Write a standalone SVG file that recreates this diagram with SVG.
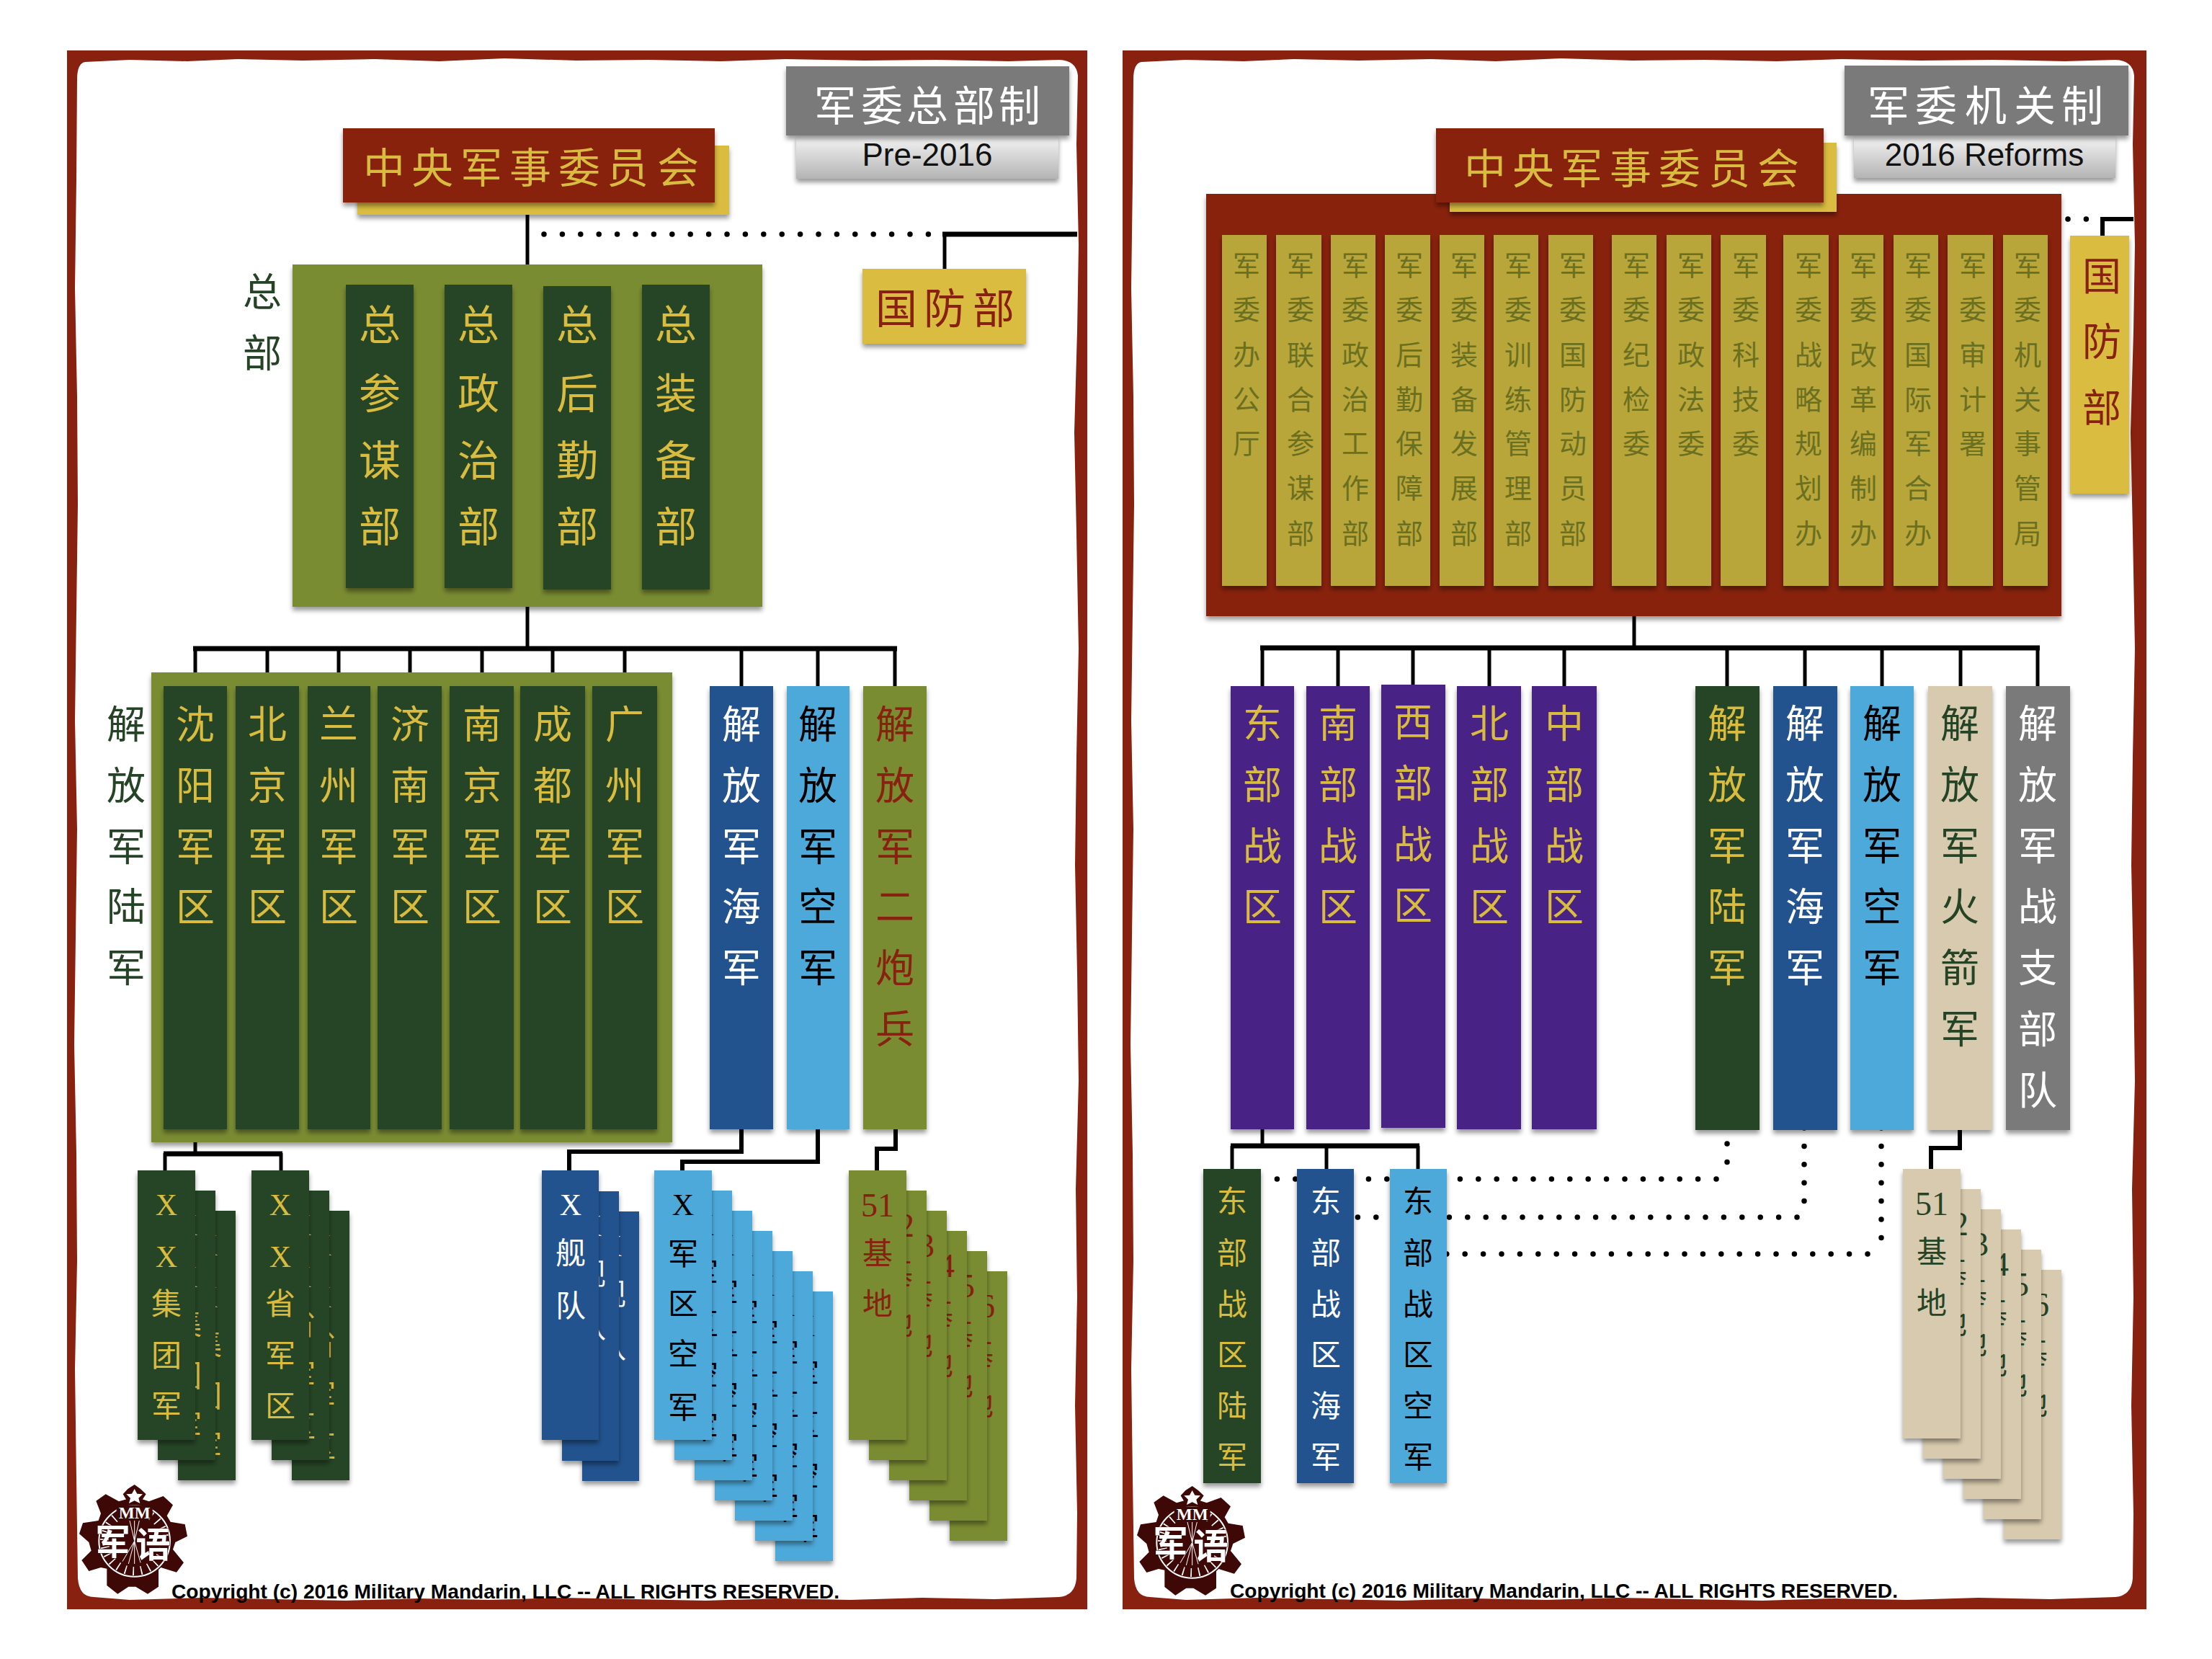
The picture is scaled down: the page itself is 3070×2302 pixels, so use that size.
<svg xmlns="http://www.w3.org/2000/svg" width="3070" height="2302" viewBox="0 0 3070 2302">
<style>
text{font-family:"Noto Sans CJK SC","Noto Sans",sans-serif;text-anchor:middle;dominant-baseline:central;transform:translateY(-3px)}
.ser{font-family:"Liberation Serif","Noto Sans CJK SC",serif;transform:none}
.lat{font-family:"Liberation Sans",sans-serif;font-size:44px;fill:#111}
.copy{font-family:"Liberation Sans",sans-serif;font-weight:700;font-size:28px;fill:#000;text-anchor:start;dominant-baseline:auto;transform:none}
.s{filter:url(#sh)}
.red{fill:#88210F}.yel{fill:#D9BC3F}.dk{fill:#254426}.olv{fill:#7A8C32}.nav{fill:#20528E}.sky{fill:#4EA9DA}.pur{fill:#4A2386}.bei{fill:#D8CAAE}.gry{fill:#7A7A7A}.gold{fill:#B9A63A}
.ty{fill:#D9BC3F}.tr{fill:#88210F}.tw{fill:#fff}.tk{fill:#000}.tg{fill:#254426}.to{fill:#6B7020;transform:translate(3px,-3px)}
.f60{font-size:58px}.f54{font-size:54px}.f42{font-size:42px}.f38{font-size:38px}.f46{font-size:46px}
.c{fill:none;stroke:#000;stroke-width:5}
.b{fill:none;stroke:#000;stroke-width:7}
.d{fill:none;stroke:#000;stroke-width:7.5;stroke-linecap:round;stroke-dasharray:0 25.4}
.lg{fill:#3D0805}
</style>
<defs>
<filter id="sh" x="-20%" y="-20%" width="140%" height="140%"><feDropShadow dx="0" dy="5" stdDeviation="3" flood-color="#000" flood-opacity="0.4"/></filter>
<linearGradient id="sub" x1="0" y1="0" x2="0" y2="1"><stop offset="0" stop-color="#F5F5F5"/><stop offset="1" stop-color="#B4B4B4"/></linearGradient>
</defs>
<rect width="3070" height="2302" fill="#fff"/>

<g id="frame-left"><rect class="red" x="93" y="70" width="1416" height="2163"/>
<path id="inner" fill="#fff" d="M118,86 L180,83 L260,85 L330,82 L420,84 L520,82 L610,85 L700,81 L800,84 L900,83 L1000,85 L1090,82 L1200,84 L1300,83 L1400,85 L1470,83 Q1494,84 1496,105 L1494,200 L1497,340 L1495,460 L1491,600 L1494,740 L1497,900 L1494,1050 L1492,1200 L1495,1350 L1497,1500 L1493,1650 L1495,1800 L1492,1950 L1495,2100 L1494,2190 Q1492,2214 1470,2216 L1380,2219 L1280,2217 L1180,2220 L1080,2218 L980,2221 L880,2219 L780,2217 L680,2220 L580,2218 L480,2221 L380,2219 L280,2217 L180,2220 L130,2216 Q110,2216 108,2190 L106,2050 L104,1900 L107,1750 L106,1600 L103,1450 L105,1300 L107,1150 L104,1000 L106,850 L108,700 L107,550 L104,400 L106,250 L107,110 Q107,88 118,86Z"/></g>
<g id="frame-right"><rect class="red" x="1558" y="70" width="1421" height="2163"/>
<path fill="#fff" transform="translate(1466,0)" d="M118,86 L180,83 L260,85 L330,82 L420,84 L520,82 L610,85 L700,81 L800,84 L900,83 L1000,85 L1090,82 L1200,84 L1300,83 L1400,85 L1470,83 Q1494,84 1496,105 L1494,200 L1497,340 L1495,460 L1491,600 L1494,740 L1497,900 L1494,1050 L1492,1200 L1495,1350 L1497,1500 L1493,1650 L1495,1800 L1492,1950 L1495,2100 L1494,2190 Q1492,2214 1470,2216 L1380,2219 L1280,2217 L1180,2220 L1080,2218 L980,2221 L880,2219 L780,2217 L680,2220 L580,2218 L480,2221 L380,2219 L280,2217 L180,2220 L130,2216 Q110,2216 108,2190 L106,2050 L104,1900 L107,1750 L106,1600 L103,1450 L105,1300 L107,1150 L104,1000 L106,850 L108,700 L107,550 L104,400 L106,250 L107,110 Q107,88 118,86Z"/></g>

<g id="connectors">
<path class="c" d="M732,298V367M732,842V900M271,900V952M371,900V952M470,900V952M569,900V952M669,900V952M767,900V952M867,900V952M1029,900V952M1135,900V952M1242,900V952"/>
<path class="b" d="M268,900H1245"/>
<path class="c" d="M1311,373V325"/><path class="b" d="M1308,325H1495"/>
<path class="d" d="M755,325H1292"/>
<path class="c" d="M271,1567V1600M229,1600V1624M390,1600V1624"/><path class="b" d="M227,1601H392"/>
<path class="c" style="stroke-width:6" d="M1029,1567V1598H790V1624"/>
<path class="c" style="stroke-width:6" d="M1135,1567V1612H947V1624"/>
<path class="c" style="stroke-width:6" d="M1243,1567V1594H1217V1624"/>
<path class="c" d="M2268,855V899M1752,899V952M1857,899V952M1961,899V952M2067,899V952M2171,899V952M2397,899V952M2505,899V952M2612,899V952M2721,899V952M2828,899V952"/>
<path class="b" d="M1749,899H2831"/>
<path class="d" d="M2870,304H2896"/>
<path class="c" style="stroke-width:6" d="M2918,327V304H2961"/>
<path class="c" d="M1752,1567V1590M1710,1590V1622M1841,1590V1622M1968,1590V1622"/><path class="b" d="M1708,1590H1970"/>
<path class="c" style="stroke-width:6" d="M2720,1568V1593H2680V1622"/>
<path class="d" d="M2382,1636H1770"/><path class="d" d="M2397,1587V1613"/>
<path class="d" d="M2494,1689H1880"/><path class="d" d="M2504,1565V1667"/>
<path class="d" d="M2592,1740H2005"/><path class="d" d="M2611,1565V1718"/>
</g>

<g id="title-left"><rect x="1105" y="188" width="364" height="60" fill="url(#sub)" class="s"/><rect class="gry s" x="1091" y="92" width="393" height="96"/>
<text class="tw f60" x="1159 1224 1287 1352 1415" y="146 146 146 146 146">军委总部制</text>
<text class="lat" x="1287" y="217">Pre-2016</text></g>

<g id="cmc-left"><rect class="yel s" x="496" y="202" width="516" height="96"/><rect class="red s" x="476" y="178" width="516" height="103"/>
<text class="ty f60" x="533 600 668 736 804 871 941" y="232 232 232 232 232 232 232">中央军事委员会</text></g>

<g id="mnd-left"><rect class="yel s" x="1197" y="373" width="227" height="104"/>
<text class="tr f60" x="1244 1311 1379" y="427 427 427">国防部</text></g>

<g id="hq-label"><text class="tg f54" x="364 364" y="404 489">总部</text></g>
<g id="hq-box"><rect class="olv s" x="406" y="367" width="652" height="475"/></g>
<g id="gsd"><rect class="dk s" x="480" y="395" width="94" height="421"/><text class="ty f60" x="527 527 527 527" y="450 545 638 730">总参谋部</text></g>
<g id="gpd"><rect class="dk s" x="617" y="395" width="94" height="421"/><text class="ty f60" x="664 664 664 664" y="450 545 638 730">总政治部</text></g>
<g id="gld"><rect class="dk s" x="754" y="397" width="94" height="421"/><text class="ty f60" x="801 801 801 801" y="450 545 638 730">总后勤部</text></g>
<g id="ged"><rect class="dk s" x="891" y="395" width="94" height="423"/><text class="ty f60" x="938 938 938 938" y="450 545 638 730">总装备部</text></g>

<g id="pla-label"><text class="tg f54" x="175 175 175 175 175" y="1004 1089 1174 1257 1342">解放军陆军</text></g>
<g id="army-box"><rect class="olv s" x="210" y="933" width="723" height="652"/></g>
<g id="mr1"><rect class="dk s" x="227" y="952" width="88" height="615"/><text class="ty f54" x="271 271 271 271" y="1004 1089 1174 1257">沈阳军区</text></g>
<g id="mr2"><rect class="dk s" x="327" y="952" width="88" height="615"/><text class="ty f54" x="371 371 371 371" y="1004 1089 1174 1257">北京军区</text></g>
<g id="mr3"><rect class="dk s" x="427" y="952" width="87" height="615"/><text class="ty f54" x="470 470 470 470" y="1004 1089 1174 1257">兰州军区</text></g>
<g id="mr4"><rect class="dk s" x="524" y="952" width="89" height="615"/><text class="ty f54" x="569 569 569 569" y="1004 1089 1174 1257">济南军区</text></g>
<g id="mr5"><rect class="dk s" x="624" y="952" width="89" height="615"/><text class="ty f54" x="669 669 669 669" y="1004 1089 1174 1257">南京军区</text></g>
<g id="mr6"><rect class="dk s" x="722" y="952" width="90" height="615"/><text class="ty f54" x="767 767 767 767" y="1004 1089 1174 1257">成都军区</text></g>
<g id="mr7"><rect class="dk s" x="822" y="952" width="90" height="615"/><text class="ty f54" x="867 867 867 867" y="1004 1089 1174 1257">广州军区</text></g>
<g id="navy-old"><rect class="nav s" x="985" y="952" width="88" height="615"/><text class="tw f54" x="1029 1029 1029 1029 1029" y="1004 1089 1174 1257 1342">解放军海军</text></g>
<g id="air-old"><rect class="sky s" x="1092" y="952" width="87" height="615"/><text class="tk f54" x="1135 1135 1135 1135 1135" y="1004 1089 1174 1257 1342">解放军空军</text></g>
<g id="sac"><rect class="olv s" x="1198" y="952" width="88" height="615"/><text class="tr f54" x="1242 1242 1242 1242 1242 1242" y="1004 1089 1174 1257 1342 1427">解放军二炮兵</text></g>

<g id="stack-ga">
<g transform="translate(247,1680)"><rect class="dk s" width="80" height="374"/><text class="ty f42 ser" x="40 40 40 40 40" y="48 120 186 258 328">XX集团军</text></g>
<g transform="translate(219,1652)"><rect class="dk s" width="80" height="374"/><text class="ty f42 ser" x="40 40 40 40 40" y="48 120 186 258 328">XX集团军</text></g>
<g transform="translate(191,1624)"><rect class="dk s" width="80" height="374"/><text class="ty f42 ser" x="40 40 40 40 40" y="48 120 186 258 328">XX集团军</text></g>
</g>
<g id="stack-pmd">
<g transform="translate(405,1680)"><rect class="dk s" width="80" height="374"/><text class="ty f42 ser" x="40 40 40 40 40" y="48 120 186 258 328">XX省军区</text></g>
<g transform="translate(377,1652)"><rect class="dk s" width="80" height="374"/><text class="ty f42 ser" x="40 40 40 40 40" y="48 120 186 258 328">XX省军区</text></g>
<g transform="translate(349,1624)"><rect class="dk s" width="80" height="374"/><text class="ty f42 ser" x="40 40 40 40 40" y="48 120 186 258 328">XX省军区</text></g>
</g>
<g id="stack-fleet">
<g transform="translate(808,1681)"><rect class="nav s" width="79" height="374"/><text class="tw f42 ser" x="40 40 40" y="48 116 189">X舰队</text></g>
<g transform="translate(780,1653)"><rect class="nav s" width="79" height="374"/><text class="tw f42 ser" x="40 40 40" y="48 116 189">X舰队</text></g>
<g transform="translate(752,1624)"><rect class="nav s" width="79" height="374"/><text class="tw f42 ser" x="40 40 40" y="48 116 189">X舰队</text></g>
</g>
<g id="stack-maf">
<g transform="translate(1076,1792)"><rect class="sky s" width="80" height="374"/><text class="tk f42 ser" x="40 40 40 40 40" y="48 117 186 256 330">X军区空军</text></g>
<g transform="translate(1048,1764)"><rect class="sky s" width="80" height="374"/><text class="tk f42 ser" x="40 40 40 40 40" y="48 117 186 256 330">X军区空军</text></g>
<g transform="translate(1020,1736)"><rect class="sky s" width="80" height="374"/><text class="tk f42 ser" x="40 40 40 40 40" y="48 117 186 256 330">X军区空军</text></g>
<g transform="translate(992,1708)"><rect class="sky s" width="80" height="374"/><text class="tk f42 ser" x="40 40 40 40 40" y="48 117 186 256 330">X军区空军</text></g>
<g transform="translate(964,1680)"><rect class="sky s" width="80" height="374"/><text class="tk f42 ser" x="40 40 40 40 40" y="48 117 186 256 330">X军区空军</text></g>
<g transform="translate(936,1652)"><rect class="sky s" width="80" height="374"/><text class="tk f42 ser" x="40 40 40 40 40" y="48 117 186 256 330">X军区空军</text></g>
<g transform="translate(908,1624)"><rect class="sky s" width="80" height="374"/><text class="tk f42 ser" x="40 40 40 40 40" y="48 117 186 256 330">X军区空军</text></g>
</g>
<g id="stack-base-old">
<g transform="translate(1318,1764)"><rect class="olv s" width="80" height="374"/><text class="tr f42 ser"><tspan x="40" y="48" class="f46">56</tspan><tspan x="40 40" y="116 186">基地</tspan></text></g>
<g transform="translate(1290,1736)"><rect class="olv s" width="80" height="374"/><text class="tr f42 ser"><tspan x="40" y="48" class="f46">55</tspan><tspan x="40 40" y="116 186">基地</tspan></text></g>
<g transform="translate(1262,1708)"><rect class="olv s" width="80" height="374"/><text class="tr f42 ser"><tspan x="40" y="48" class="f46">54</tspan><tspan x="40 40" y="116 186">基地</tspan></text></g>
<g transform="translate(1234,1680)"><rect class="olv s" width="80" height="374"/><text class="tr f42 ser"><tspan x="40" y="48" class="f46">53</tspan><tspan x="40 40" y="116 186">基地</tspan></text></g>
<g transform="translate(1206,1652)"><rect class="olv s" width="80" height="374"/><text class="tr f42 ser"><tspan x="40" y="48" class="f46">52</tspan><tspan x="40 40" y="116 186">基地</tspan></text></g>
<g transform="translate(1178,1624)"><rect class="olv s" width="80" height="374"/><text class="tr f42 ser"><tspan x="40" y="48" class="f46">51</tspan><tspan x="40 40" y="116 186">基地</tspan></text></g>
</g>

<g id="logo-left" transform="translate(90,2060) scale(.3333)">
<polygon class="lg" points="130,68 170,40 225,70 260,60 320,60 350,70 410,48 450,85 425,130 440,155 500,165 510,215 460,240 450,270 495,325 465,365 400,345 390,355 390,425 345,455 295,425 265,425 220,455 175,420 175,350 150,345 100,360 70,315 110,275 100,240 60,205 75,160 140,150 150,120"/>
<polygon class="lg" points="290,0 315,18 338,40 318,70 320,90 258,90 260,70 242,40 262,18"/>
<polygon fill="#fff" points="290,18 301,38 324,40 307,56 313,78 290,67 267,78 273,56 256,40 279,38"/>
<circle cx="290" cy="235" r="148" fill="none" stroke="#fff" stroke-width="6"/>
<circle cx="290" cy="235" r="125" fill="none" stroke="#fff" stroke-width="36" stroke-dasharray="5 28"/>
<path fill="none" stroke="#fff" stroke-width="3" d="M290,235L270,150M290,235L310,150M290,235L290,150M290,235L240,320M290,235L265,330M290,235L290,330M290,235L315,325"/>
<rect class="lg" x="215" y="85" width="150" height="60"/>
<text class="ser" x="290" y="117" font-size="70" font-weight="700" fill="#fff">MM</text>
<text x="200 368" y="232 242" font-size="145" font-weight="700" fill="#fff" stroke="#3D0805" stroke-width="3" paint-order="stroke">军语</text>
</g>
<g id="logo-right" transform="translate(1558,2062) scale(.3333)">
<polygon class="lg" points="130,68 170,40 225,70 260,60 320,60 350,70 410,48 450,85 425,130 440,155 500,165 510,215 460,240 450,270 495,325 465,365 400,345 390,355 390,425 345,455 295,425 265,425 220,455 175,420 175,350 150,345 100,360 70,315 110,275 100,240 60,205 75,160 140,150 150,120"/>
<polygon class="lg" points="290,0 315,18 338,40 318,70 320,90 258,90 260,70 242,40 262,18"/>
<polygon fill="#fff" points="290,18 301,38 324,40 307,56 313,78 290,67 267,78 273,56 256,40 279,38"/>
<circle cx="290" cy="235" r="148" fill="none" stroke="#fff" stroke-width="6"/>
<circle cx="290" cy="235" r="125" fill="none" stroke="#fff" stroke-width="36" stroke-dasharray="5 28"/>
<path fill="none" stroke="#fff" stroke-width="3" d="M290,235L270,150M290,235L310,150M290,235L290,150M290,235L240,320M290,235L265,330M290,235L290,330M290,235L315,325"/>
<rect class="lg" x="215" y="85" width="150" height="60"/>
<text class="ser" x="290" y="117" font-size="70" font-weight="700" fill="#fff">MM</text>
<text x="200 368" y="232 242" font-size="145" font-weight="700" fill="#fff" stroke="#3D0805" stroke-width="3" paint-order="stroke">军语</text>
</g>
<text class="copy" x="238" y="2218" textLength="927" lengthAdjust="spacingAndGlyphs">Copyright (c) 2016 Military Mandarin, LLC -- ALL RIGHTS RESERVED.</text>

<g id="title-right"><rect x="2573" y="188" width="363" height="59" fill="url(#sub)" class="s"/><rect class="gry s" x="2560" y="91" width="394" height="97"/>
<text class="tw f60" x="2621 2687 2756 2824 2890" y="146 146 146 146 146">军委机关制</text>
<text class="lat" x="2754" y="217">2016 Reforms</text></g>

<g id="cmc-box"><rect class="red s" x="1674" y="269" width="1187" height="586"/></g>
<g id="cmc-right"><rect class="yel s" x="2012" y="198" width="537" height="96"/><rect class="red s" x="1993" y="178" width="538" height="103"/>
<text class="ty f60" x="2061 2128 2195 2263 2331 2400 2468" y="233 233 233 233 233 233 233">中央军事委员会</text></g>

<g id="d01"><rect class="gold s" x="1696" y="326" width="62" height="487"/><text class="to f38" x="1727 1727 1727 1727 1727" y="368 429 492 554 615">军委办公厅</text></g>
<g id="d02"><rect class="gold s" x="1771" y="326" width="63" height="487"/><text class="to f38" x="1802 1802 1802 1802 1802 1802 1802" y="368 429 492 554 615 677 740">军委联合参谋部</text></g>
<g id="d03"><rect class="gold s" x="1847" y="326" width="62" height="487"/><text class="to f38" x="1878 1878 1878 1878 1878 1878 1878" y="368 429 492 554 615 677 740">军委政治工作部</text></g>
<g id="d04"><rect class="gold s" x="1922" y="326" width="63" height="487"/><text class="to f38" x="1953 1953 1953 1953 1953 1953 1953" y="368 429 492 554 615 677 740">军委后勤保障部</text></g>
<g id="d05"><rect class="gold s" x="1998" y="326" width="62" height="487"/><text class="to f38" x="2029 2029 2029 2029 2029 2029 2029" y="368 429 492 554 615 677 740">军委装备发展部</text></g>
<g id="d06"><rect class="gold s" x="2073" y="326" width="62" height="487"/><text class="to f38" x="2104 2104 2104 2104 2104 2104 2104" y="368 429 492 554 615 677 740">军委训练管理部</text></g>
<g id="d07"><rect class="gold s" x="2149" y="326" width="62" height="487"/><text class="to f38" x="2180 2180 2180 2180 2180 2180 2180" y="368 429 492 554 615 677 740">军委国防动员部</text></g>
<g id="d08"><rect class="gold s" x="2237" y="326" width="62" height="487"/><text class="to f38" x="2268 2268 2268 2268 2268" y="368 429 492 554 615">军委纪检委</text></g>
<g id="d09"><rect class="gold s" x="2313" y="326" width="62" height="487"/><text class="to f38" x="2344 2344 2344 2344 2344" y="368 429 492 554 615">军委政法委</text></g>
<g id="d10"><rect class="gold s" x="2388" y="326" width="63" height="487"/><text class="to f38" x="2420 2420 2420 2420 2420" y="368 429 492 554 615">军委科技委</text></g>
<g id="d11"><rect class="gold s" x="2475" y="326" width="63" height="487"/><text class="to f38" x="2507 2507 2507 2507 2507 2507 2507" y="368 429 492 554 615 677 740">军委战略规划办</text></g>
<g id="d12"><rect class="gold s" x="2552" y="326" width="62" height="487"/><text class="to f38" x="2583 2583 2583 2583 2583 2583 2583" y="368 429 492 554 615 677 740">军委改革编制办</text></g>
<g id="d13"><rect class="gold s" x="2628" y="326" width="62" height="487"/><text class="to f38" x="2659 2659 2659 2659 2659 2659 2659" y="368 429 492 554 615 677 740">军委国际军合办</text></g>
<g id="d14"><rect class="gold s" x="2703" y="326" width="63" height="487"/><text class="to f38" x="2735 2735 2735 2735 2735" y="368 429 492 554 615">军委审计署</text></g>
<g id="d15"><rect class="gold s" x="2780" y="326" width="62" height="487"/><text class="to f38" x="2811 2811 2811 2811 2811 2811 2811" y="368 429 492 554 615 677 740">军委机关事管局</text></g>

<g id="mnd-right"><rect class="yel s" x="2873" y="327" width="82" height="358"/><text class="tr f54" x="2917 2917 2917" y="382 473 565">国防部</text></g>

<g id="tc1"><rect class="pur s" x="1708" y="952" width="88" height="615"/><text class="ty f54" x="1752 1752 1752 1752" y="1003 1088 1173 1257">东部战区</text></g>
<g id="tc2"><rect class="pur s" x="1813" y="952" width="88" height="615"/><text class="ty f54" x="1857 1857 1857 1857" y="1003 1088 1173 1257">南部战区</text></g>
<g id="tc3"><rect class="pur s" x="1917" y="950" width="89" height="615"/><text class="ty f54" x="1961 1961 1961 1961" y="1001 1086 1171 1255">西部战区</text></g>
<g id="tc4"><rect class="pur s" x="2022" y="952" width="89" height="615"/><text class="ty f54" x="2067 2067 2067 2067" y="1003 1088 1173 1257">北部战区</text></g>
<g id="tc5"><rect class="pur s" x="2126" y="952" width="90" height="615"/><text class="ty f54" x="2171 2171 2171 2171" y="1003 1088 1173 1257">中部战区</text></g>
<g id="army-new"><rect class="dk s" x="2353" y="952" width="89" height="616"/><text class="ty f54" x="2397 2397 2397 2397 2397" y="1003 1088 1173 1257 1342">解放军陆军</text></g>
<g id="navy-new"><rect class="nav s" x="2461" y="952" width="89" height="616"/><text class="tw f54" x="2505 2505 2505 2505 2505" y="1003 1088 1173 1257 1342">解放军海军</text></g>
<g id="air-new"><rect class="sky s" x="2568" y="952" width="88" height="616"/><text class="tk f54" x="2612 2612 2612 2612 2612" y="1003 1088 1173 1257 1342">解放军空军</text></g>
<g id="rocket"><rect class="bei s" x="2676" y="952" width="89" height="616"/><text class="tg f54" x="2720 2720 2720 2720 2720 2720" y="1003 1088 1173 1257 1342 1427">解放军火箭军</text></g>
<g id="ssf"><rect class="gry s" x="2784" y="952" width="89" height="616"/><text class="tw f54" x="2828 2828 2828 2828 2828 2828 2828" y="1003 1088 1173 1257 1342 1427 1512">解放军战支部队</text></g>

<g id="east-army"><rect class="dk s" x="1670" y="1622" width="80" height="436"/><text class="ty f42" x="1710 1710 1710 1710 1710 1710" y="1666 1738 1809 1879 1950 2021">东部战区陆军</text></g>
<g id="east-navy"><rect class="nav s" x="1800" y="1622" width="79" height="436"/><text class="tw f42" x="1840 1840 1840 1840 1840 1840" y="1666 1738 1809 1879 1950 2021">东部战区海军</text></g>
<g id="east-air"><rect class="sky s" x="1929" y="1622" width="79" height="436"/><text class="tk f42" x="1968 1968 1968 1968 1968 1968" y="1666 1738 1809 1879 1950 2021">东部战区空军</text></g>

<g id="stack-base-new">
<g transform="translate(2781,1762)"><rect class="bei s" width="80" height="374"/><text class="tg f42 ser"><tspan x="40" y="48" class="f46">56</tspan><tspan x="40 40" y="116 187">基地</tspan></text></g>
<g transform="translate(2753,1734)"><rect class="bei s" width="80" height="374"/><text class="tg f42 ser"><tspan x="40" y="48" class="f46">55</tspan><tspan x="40 40" y="116 187">基地</tspan></text></g>
<g transform="translate(2725,1706)"><rect class="bei s" width="80" height="374"/><text class="tg f42 ser"><tspan x="40" y="48" class="f46">54</tspan><tspan x="40 40" y="116 187">基地</tspan></text></g>
<g transform="translate(2697,1678)"><rect class="bei s" width="80" height="374"/><text class="tg f42 ser"><tspan x="40" y="48" class="f46">53</tspan><tspan x="40 40" y="116 187">基地</tspan></text></g>
<g transform="translate(2669,1650)"><rect class="bei s" width="80" height="374"/><text class="tg f42 ser"><tspan x="40" y="48" class="f46">52</tspan><tspan x="40 40" y="116 187">基地</tspan></text></g>
<g transform="translate(2641,1622)"><rect class="bei s" width="80" height="374"/><text class="tg f42 ser"><tspan x="40" y="48" class="f46">51</tspan><tspan x="40 40" y="116 187">基地</tspan></text></g>
</g>
<text class="copy" x="1707" y="2217" textLength="927" lengthAdjust="spacingAndGlyphs">Copyright (c) 2016 Military Mandarin, LLC -- ALL RIGHTS RESERVED.</text>
</svg>
